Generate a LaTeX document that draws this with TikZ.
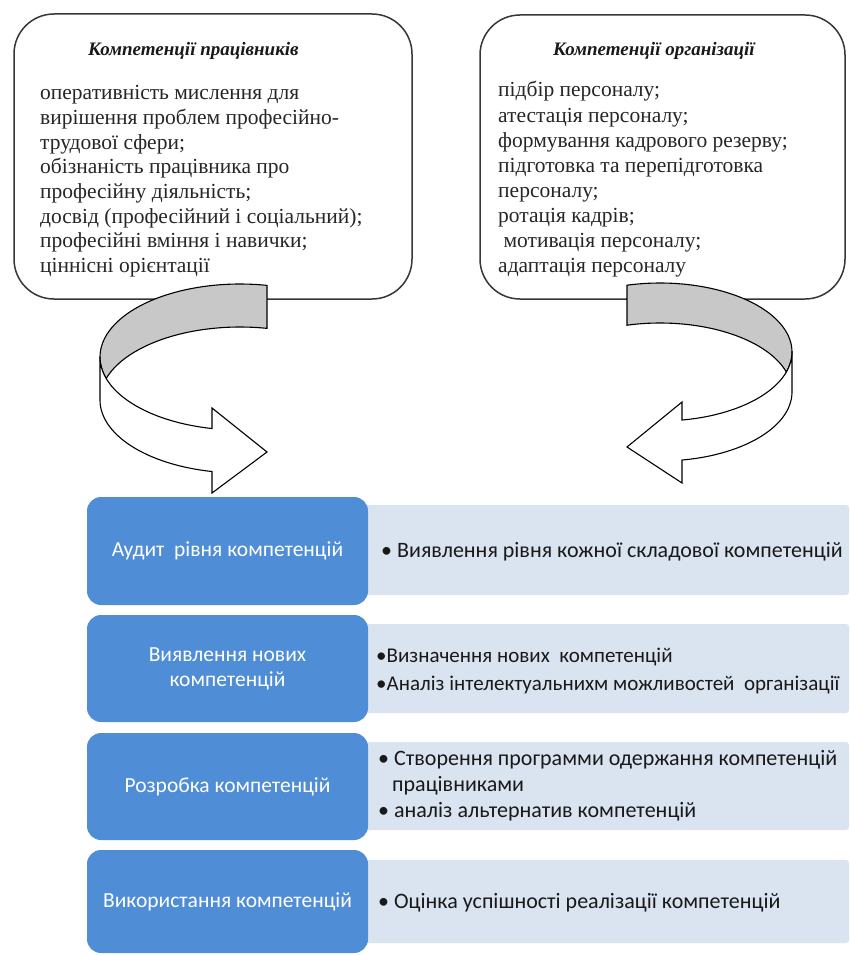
\documentclass[tikz,border=0pt]{standalone}
\usepackage{fontspec}
\setmainfont{Liberation Serif}
\newfontfamily\bodyserif{Liberation Serif}
\newfontfamily\calib{Carlito}
\definecolor{boxline}{RGB}{55,55,55}
\definecolor{ribgray}{RGB}{200,200,200}
\definecolor{stepblue}{RGB}{79,141,214}
\definecolor{steplight}{RGB}{218,228,241}
\definecolor{steptext}{RGB}{25,25,25}
\begin{document}
\begin{tikzpicture}[x=1pt,y=-1pt,
  topbox/.style={draw=boxline, line width=1.5pt, rounded corners=40pt, fill=white, inner sep=0pt},
  toptitle/.style={font=\bodyserif\fontsize{19}{19}\selectfont\bfseries\itshape, anchor=base west, inner sep=0pt, text=black!90},
  topline/.style={font=\bodyserif\fontsize{21.5}{24}\selectfont, anchor=base west, inner sep=0pt, text=black!85},
  ribbon/.style={draw=black, line width=1.1pt, line join=miter},
  bluebox/.style={fill=stepblue, rounded corners=14pt, inner sep=0pt, text=white, align=center,
    font=\calib\fontsize{21.5}{25}\selectfont, minimum width=281pt},
  lightbox/.style={fill=steplight, rounded corners=3pt, inner sep=0pt, minimum width=494pt},
  steptxt/.style={font=\calib\fontsize{22}{25}\selectfont, text=steptext, anchor=base west, inner sep=0pt},
  steptxtsm/.style={steptxt, font=\calib\fontsize{21}{25}\selectfont}
]
\useasboundingbox (0,0) rectangle (849,955);
\fill[white] (0,0) rectangle (849,955);

% top boxes
\node[topbox, minimum width=398pt, minimum height=285pt] (wbox) at (213,156.5) {};
\node[topbox, minimum width=365pt, minimum height=284pt] (obox) at (662.5,157) {};

\node[toptitle] (wtitle) at (88,56) {Компетенції працівників};
\node[toptitle] (otitle) at (553,56) {Компетенції організації};

\foreach \t [count=\i from 0] in {оперативність мислення для,вирішення проблем професійно-,трудової сфери;,обізнаність працівника про,професійну діяльність;,досвід (професійний і соціальний);,професійні вміння і навички;,ціннісні орієнтації}
  \node[topline] (wl\i) at (40,{100+24.6*\i}) {\t};

\foreach \t [count=\i from 0] in {підбір персоналу;,атестація персоналу;,формування кадрового резерву;,підготовка та перепідготовка,персоналу;,ротація кадрів;,\ мотивація персоналу;,адаптація персоналу}
  \node[topline] (ol\i) at (498,{97+25*\i}) {\t};

% left ribbon arrow
\filldraw[ribbon, fill=ribgray] (267,285.4)
  -- plot[domain=-78.88:-180, samples=40] ({240+140*cos(\x)},{357+73*sin(\x)})
  -- plot[domain=180:162.87, samples=10] ({240+140*cos(\x)},{357+73*sin(\x)})
  -- plot[domain=-162.87:-78.88, samples=40] ({240+140*cos(\x)},{400+73*sin(\x)})
  -- cycle;
\filldraw[ribbon, fill=white] (100,357) -- (100,400)
  -- plot[domain=180:101.54, samples=40] ({240+140*cos(\x)},{400+73*sin(\x)})
  -- (212,493) -- (267,452) -- (212,408)
  -- plot[domain=101.54:180, samples=40] ({240+140*cos(\x)},{357+73*sin(\x)})
  -- cycle;

% right ribbon arrow
\filldraw[ribbon, fill=ribgray] (627,285.2)
  -- plot[domain=-104.48:0, samples=40] ({660+132*cos(\x)},{352+69*sin(\x)})
  -- plot[domain=0:16.85, samples=10] ({660+132*cos(\x)},{352+69*sin(\x)})
  -- plot[domain=-16.85:-104.48, samples=40] ({660+132*cos(\x)},{392+69*sin(\x)})
  -- cycle;
\filldraw[ribbon, fill=white] (792,352) -- (792,392)
  -- plot[domain=0:80.41, samples=40] ({660+132*cos(\x)},{392+69*sin(\x)})
  -- (682,483) -- (627,447) -- (682,402)
  -- plot[domain=80.41:0, samples=40] ({660+132*cos(\x)},{352+69*sin(\x)})
  -- cycle;

% light boxes
\node[lightbox, minimum height=90pt] (g1) at (602,550) {};
\node[lightbox, minimum height=89pt] (g2) at (602,668.5) {};
\node[lightbox, minimum height=88pt] (g3) at (602,786) {};
\node[lightbox, minimum height=83pt] (g4) at (602,901.5) {};

% blue boxes
\node[bluebox, minimum height=108pt] (b1) at (227.5,551) {Аудит\ \ рівня компетенцій};
\node[bluebox, minimum height=107pt] (b2) at (227.5,668.5) {Виявлення нових\\компетенцій};
\node[bluebox, minimum height=107pt] (b3) at (227.5,786.5) {Розробка компетенцій};
\node[bluebox, minimum height=103pt] (b4) at (227.5,901.5) {Використання компетенцій};

% step texts
\node[steptxt] (s1) at (381,557) {• Виявлення рівня кожної складової компетенцій};
\node[steptxtsm] (s2a) at (376,662) {•Визначення нових\ \ компетенцій};
\node[steptxtsm] (s2b) at (376,690) {•Аналіз інтелектуальнихм можливостей\ \ організації};
\node[steptxt] (s3a) at (378,765) {• Створення программи одержання компетенцій};
\node[steptxt] (s3b) at (392,791) {працівниками};
\node[steptxt] (s3c) at (378,817) {• аналіз альтернатив компетенцій};
\node[steptxt] (s4) at (378,908) {• Оцінка успішності реалізації компетенцій};
\end{tikzpicture}
\end{document}
